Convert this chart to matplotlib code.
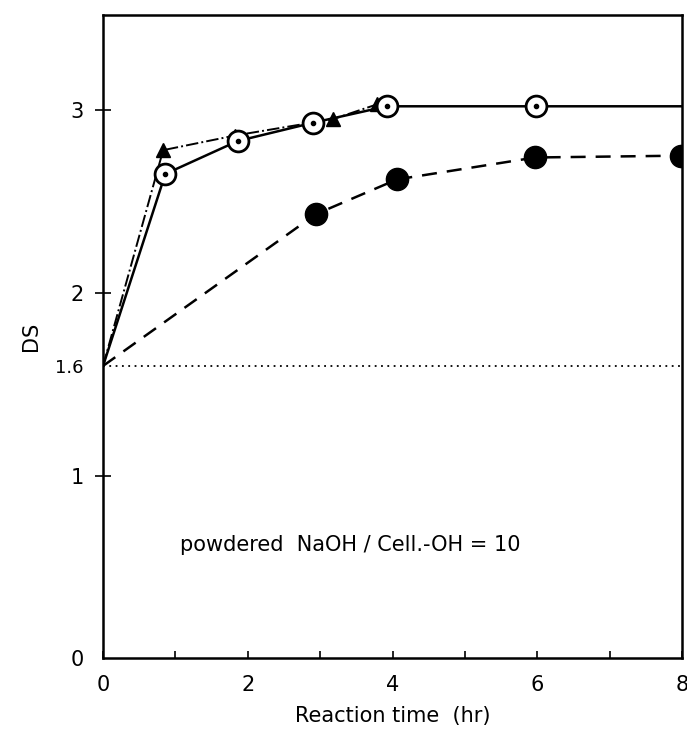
import matplotlib.pyplot as plt

# data
t_open = [0, 0.86, 1.86, 2.9, 3.92, 5.98, 8.0]
ds_open = [1.6, 2.65, 2.83, 2.93, 3.02, 3.02, 3.02]

t_tri = [0, 0.83, 1.82, 3.18, 3.78]
ds_tri = [1.6, 2.78, 2.86, 2.95, 3.03]

t_fill = [0, 2.94, 4.06, 5.97, 7.98]
ds_fill = [1.6, 2.43, 2.62, 2.74, 2.75]

baseline = 1.6

fig = plt.figure(figsize=(6.87, 7.44), dpi=100)
ax = fig.add_axes([0.15, 0.115, 0.843, 0.865])

ax.axhline(baseline, color='black', lw=1.3, ls=(0, (1, 2.5)))

# start point (t=0) carries no marker in the original
ax.plot(t_tri, ds_tri, color='black', lw=1.4, ls='-.',
        marker='^', ms=10, mfc='black', mec='black', markevery=slice(1, None),
        zorder=3)
ax.plot(t_open, ds_open, color='black', lw=1.8, ls='-', zorder=4)
ax.plot(t_open[1:6], ds_open[1:6], ls='none', marker='o', ms=15,
        mfc='white', mec='black', mew=2, zorder=5)
ax.plot(t_open[1:6], ds_open[1:6], ls='none', marker='o', ms=3,
        mfc='black', mec='black', zorder=6)
ax.plot(t_fill, ds_fill, color='black', lw=1.8, ls=(0, (6, 4)),
        marker='o', ms=16, mfc='black', mec='black',
        markevery=slice(1, None), zorder=3)

ax.set_xlim(0, 8)
ax.set_ylim(0, 3.52)
ax.set_xticks([0, 2, 4, 6, 8])
ax.set_xticks([1, 3, 5, 7], minor=True)
ax.set_yticks([0, 1, 1.6, 2, 3])
ax.set_yticklabels(['0', '1', '1.6', '2', '3'])
ax.tick_params(axis='x', which='both', direction='in', length=5, width=1.2,
               labelsize=15, pad=12)
ax.tick_params(axis='y', direction='inout', length=12, width=1.2,
               labelsize=15, pad=8)
ax.get_yticklines()[0].set_visible(False)
ax.get_yticklines()[4].set_visible(False)
ax.get_yticklabels()[2].set_fontsize(13)
for s in ax.spines.values():
    s.set_linewidth(1.8)

ax.set_xlabel('Reaction time  (hr)', fontsize=15, labelpad=8)
ax.set_ylabel('DS', fontsize=15, labelpad=10)

ax.text(1.06, 0.62, 'powdered  NaOH / Cell.-OH = 10', fontsize=15,
        ha='left', va='center')

fig.savefig('out.png', dpi=100)
